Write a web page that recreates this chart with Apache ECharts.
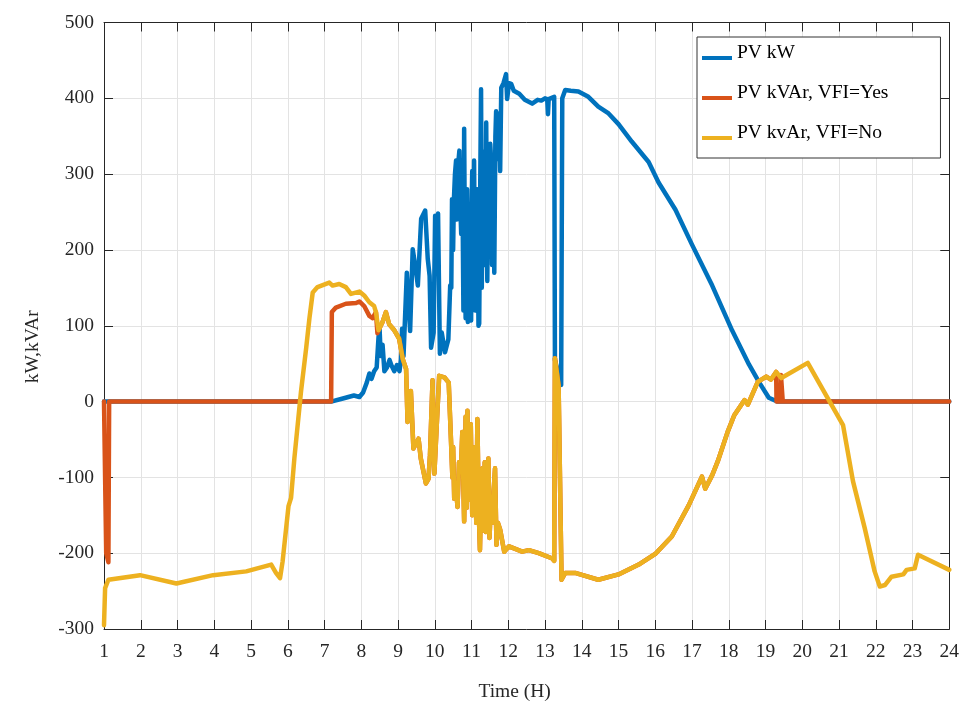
<!DOCTYPE html>
<html>
<head>
<meta charset="utf-8">
<script src="https://cdn.jsdelivr.net/npm/echarts@6/dist/echarts.min.js"></script>
<style>html,body{margin:0;padding:0;background:#fff;}#c{width:962px;height:708px;}</style>
</head>
<body>
<div id="c"></div>
<script>
// ---- data (hours, value) ----
const pvKW = [[1,0],[7.18,0],[7.5,4],[7.8,8],[7.95,6],[8.05,12],[8.15,25],[8.22,37],[8.28,30],[8.35,40],[8.42,45],[8.47,85],[8.5,95],[8.53,60],[8.58,75],[8.63,40],[8.7,45],[8.77,55],[8.82,48],[8.9,40],[8.97,48],[9.04,40],[9.08,55],[9.11,96],[9.15,60],[9.24,170],[9.33,93],[9.4,201],[9.47,179],[9.54,153],[9.63,241],[9.74,252],[9.81,188],[9.86,166],[9.9,71],[9.97,91],[10.01,245],[10.06,235],[10.09,248],[10.14,63],[10.19,91],[10.28,65],[10.37,82],[10.42,153],[10.45,150],[10.47,267],[10.5,200],[10.52,265],[10.55,300],[10.58,318],[10.6,240],[10.63,290],[10.65,320],[10.67,331],[10.7,250],[10.72,221],[10.75,300],[10.78,120],[10.8,360],[10.82,200],[10.84,110],[10.86,111],[10.88,280],[10.9,105],[10.92,200],[10.95,120],[10.99,107],[11.0,250],[11.02,304],[11.05,200],[11.07,318],[11.1,120],[11.13,150],[11.16,280],[11.19,100],[11.21,103],[11.24,300],[11.26,412],[11.28,150],[11.29,208],[11.32,330],[11.34,300],[11.37,180],[11.4,368],[11.42,220],[11.43,159],[11.46,330],[11.48,260],[11.51,340],[11.53,322],[11.56,180],[11.58,200],[11.6,300],[11.62,170],[11.65,350],[11.67,383],[11.7,320],[11.72,330],[11.75,380],[11.78,304],[11.81,414],[11.87,420],[11.94,432],[11.97,399],[12.02,420],[12.08,419],[12.15,410],[12.3,406],[12.45,398],[12.65,393],[12.8,398],[12.9,397],[13.0,400],[13.06,399],[13.08,379],[13.1,399],[13.25,402],[13.27,55],[13.44,22],[13.47,400],[13.55,411],[13.7,410],[13.91,409],[14.18,402],[14.45,389],[14.73,380],[15.0,366],[15.36,343],[15.82,316],[16.09,289],[16.55,253],[17.0,207],[17.55,153],[18.09,94],[18.55,49],[18.82,26],[19.09,5],[19.32,0],[24,0]];

const pvKVArNo = [[1,-295],[1.03,-246],[1.12,-235],[1.98,-229],[2.97,-240],[3.97,-229],[4.87,-224],[5.55,-215],[5.68,-226],[5.79,-233],[5.86,-211],[6.02,-138],[6.09,-127],[6.18,-75],[6.36,13],[6.5,70],[6.59,110],[6.68,144],[6.81,151],[7.13,157],[7.22,153],[7.4,155],[7.58,151],[7.72,142],[7.95,145],[8.08,140],[8.22,131],[8.35,126],[8.4,118],[8.47,94],[8.58,105],[8.67,118],[8.76,102],[8.9,94],[9.03,83],[9.13,56],[9.22,43],[9.26,-27],[9.35,14],[9.42,-62],[9.56,-49],[9.62,-75],[9.76,-108],[9.83,-102],[9.87,-71],[9.94,28],[9.99,-95],[10.12,34],[10.26,32],[10.38,25],[10.44,-49],[10.48,-100],[10.5,-60],[10.53,-128],[10.57,-110],[10.62,-139],[10.66,-80],[10.71,-93],[10.75,-40],[10.8,-158],[10.84,-20],[10.87,-140],[10.89,-12],[10.92,-130],[10.95,-93],[10.98,-30],[11.02,-150],[11.07,-145],[11.1,-60],[11.13,-160],[11.16,-23],[11.2,-150],[11.23,-196],[11.27,-100],[11.3,-88],[11.33,-170],[11.36,-80],[11.39,-172],[11.42,-110],[11.46,-75],[11.49,-180],[11.52,-145],[11.56,-160],[11.6,-120],[11.64,-88],[11.68,-189],[11.72,-160],[11.78,-169],[11.89,-198],[12.02,-191],[12.38,-198],[12.56,-196],[12.83,-200],[13.2,-207],[13.25,-210],[13.27,57],[13.37,21],[13.45,-235],[13.55,-226],[13.82,-226],[14.45,-235],[15.0,-228],[15.55,-215],[16.0,-201],[16.45,-178],[16.91,-137],[17.27,-99],[17.36,-115],[17.55,-97],[17.7,-79],[17.97,-40],[18.15,-18],[18.43,2],[18.52,-4],[18.79,26],[19.02,33],[19.15,29],[19.29,39],[19.43,31],[20.15,51],[20.7,4],[21.11,-31],[21.38,-105],[21.7,-167],[21.97,-224],[22.11,-244],[22.25,-242],[22.43,-231],[22.75,-228],[22.84,-222],[23.06,-220],[23.15,-202],[24,-222]];

const pvKVArYesHead = [[1,0],[1.06,-200],[1.12,-212],[1.14,0],[7.18,0],[7.2,118],[7.31,124],[7.58,129],[7.86,130],[7.95,132],[8.08,126],[8.22,113],[8.31,110],[8.4,118],[8.44,90]];
const pvKVArYesTail = [[19.3,0],[19.41,0],[19.42,35],[19.46,33],[19.47,0],[24,0]];
const yesFollowFrom = 8.47, yesFollowTo = 19.29;

const xTicks = {min:1, max:24, step:1};
const yTicks = {min:-300, max:500, step:100};
const seriesNames = ['PV kW','PV kVAr, VFI=Yes','PV kvAr, VFI=No'];

// red (VFI=Yes) coincides with the VFI=No curve while PV is producing
const pvKVArYes = pvKVArYesHead
  .concat(pvKVArNo.filter(p => p[0] >= yesFollowFrom && p[0] <= yesFollowTo))
  .concat(pvKVArYesTail);

const FONT = 'Liberation Serif';
const AX = '#262626';
const chart = echarts.init(document.getElementById('c'), null, {renderer:'canvas'});
const lineW = 4.5;
function mkSeries(name, data, color){
  return {name, type:'line', data, showSymbol:false, symbol:'none',
    lineStyle:{width:lineW, color, cap:'round', join:'round'}, itemStyle:{color},
    animation:false, clip:true};
}
chart.setOption({
  backgroundColor:'#fff',
  animation:false,
  grid:{left:104, right:11, top:22.5, bottom:79},
  legend:{
    orient:'vertical', left:697, top:37,
    padding:[6,52,15,5],
    itemGap:20, itemWidth:30, itemHeight:20,
    icon:'path://M0,0L0.01,0L0,0.01Z M0,13L30,13L30,17L0,17Z M30,20L30,19.99L29.99,20Z',
    borderColor:'#333', borderWidth:1, backgroundColor:'#fff',
    textStyle:{fontFamily:FONT, fontSize:19.5, color:'#000'},
    data:seriesNames
  },
  xAxis:[{
    type:'value', min:xTicks.min, max:xTicks.max, interval:xTicks.step,
    name:'Time (H)', nameLocation:'middle', nameGap:53,
    nameTextStyle:{fontFamily:FONT, fontSize:19.5, color:AX, padding:[0,24,0,0]},
    axisLine:{show:true, onZero:false, lineStyle:{color:AX, width:1}},
    axisTick:{show:true, inside:true, length:9, lineStyle:{color:AX}},
    axisLabel:{fontFamily:FONT, fontSize:19.5, color:AX, margin:13},
    splitLine:{show:true, lineStyle:{color:'#e3e3e3', width:1}}
  },{
    type:'value', position:'top', min:xTicks.min, max:xTicks.max, interval:xTicks.step,
    axisLine:{show:true, onZero:false, lineStyle:{color:AX, width:1}},
    axisTick:{show:true, inside:true, length:9, lineStyle:{color:AX}},
    axisLabel:{show:false}, splitLine:{show:false}
  }],
  yAxis:[{
    type:'value', min:yTicks.min, max:yTicks.max, interval:yTicks.step,
    name:'kW,kVAr', nameLocation:'middle', nameGap:61,
    nameTextStyle:{fontFamily:FONT, fontSize:19.5, color:AX, padding:[0,42,0,0]},
    axisLine:{show:true, onZero:false, lineStyle:{color:AX, width:1}},
    axisTick:{show:true, inside:true, length:9, lineStyle:{color:AX}},
    axisLabel:{fontFamily:FONT, fontSize:19.5, color:AX, margin:10},
    splitLine:{show:true, lineStyle:{color:'#e3e3e3', width:1}}
  },{
    type:'value', position:'right', min:yTicks.min, max:yTicks.max, interval:yTicks.step,
    axisLine:{show:true, onZero:false, lineStyle:{color:AX, width:1}},
    axisTick:{show:true, inside:true, length:9, lineStyle:{color:AX}},
    axisLabel:{show:false}, splitLine:{show:false}
  }],
  series:[
    mkSeries(seriesNames[0], pvKW, '#0072BD'),
    mkSeries(seriesNames[1], pvKVArYes, '#D95319'),
    mkSeries(seriesNames[2], pvKVArNo, '#EDB120')
  ]
});
</script>
</body>
</html>
